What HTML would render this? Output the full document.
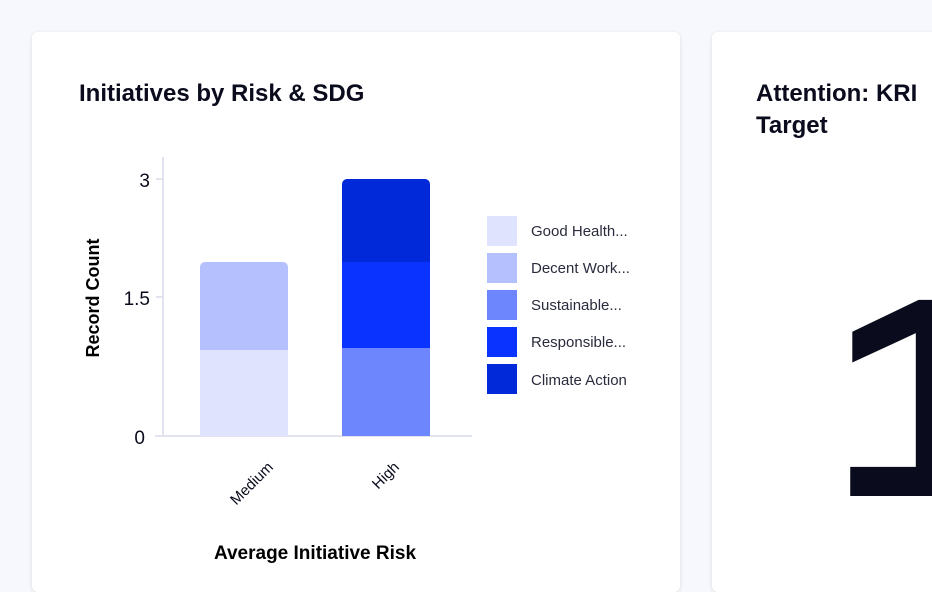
<!DOCTYPE html>
<html><head><style>
body{margin:0;width:932px;height:584px;background:#f7f8fd;overflow:hidden;position:relative;font-family:"Liberation Sans",sans-serif;color:#0a0c1d}
.card{position:absolute;background:#fff;border-radius:6px;box-shadow:0 1px 4px rgba(20,20,60,.12)}
</style></head><body>
<div class="card" style="left:32px;top:32px;width:648px;height:560px"></div>
<div class="card" style="left:712px;top:32px;width:220px;height:560px;border-radius:6px 0 0 6px"></div>
<div style="position:absolute;left:79px;top:80px;font-size:24px;font-weight:bold;">Initiatives by Risk &amp; SDG</div>
<div style="position:absolute;left:756px;top:78px;font-size:24px;font-weight:bold;line-height:32px">Attention: KRI<br>Target</div>
<div style="position:absolute;left:826px;top:256px;width:106px;height:260px;overflow:hidden"><div style="font-size:285px;font-weight:bold;line-height:1;color:#0a0c1d;transform:scaleX(1.35);transform-origin:0 0;margin-left:0px">1</div></div>
<svg style="position:absolute;left:0;top:0" width="680" height="584">
<line x1="163" y1="157" x2="163" y2="437" stroke="#e1e3ee" stroke-width="2"/>
<line x1="155" y1="436" x2="472" y2="436" stroke="#e1e3ee" stroke-width="2"/>
<line x1="156" y1="179" x2="163" y2="179" stroke="#e1e3ee" stroke-width="2"/>
<line x1="156" y1="297" x2="163" y2="297" stroke="#e1e3ee" stroke-width="2"/>
<g font-size="19" text-anchor="end" fill="#0a0c1d">
<text x="150" y="187">3</text><text x="150" y="305">1.5</text><text x="145" y="444">0</text></g>
<path d="M200,350 V267 a5,5 0 0 1 5,-5 H283 a5,5 0 0 1 5,5 V350Z" fill="#b5c0fe"/>
<rect x="200" y="350" width="88" height="86" fill="#dfe3fd"/>
<path d="M342,262 V184 a5,5 0 0 1 5,-5 H425 a5,5 0 0 1 5,5 V262Z" fill="#0229d9"/>
<rect x="342" y="262" width="88" height="86" fill="#0a33ff"/>
<rect x="342" y="348" width="88" height="88" fill="#6d86fe"/>
<g font-size="15" fill="#0a0c1d">
<text transform="translate(274,468) rotate(-45)" text-anchor="end">Medium</text>
<text transform="translate(400,468) rotate(-45)" text-anchor="end">High</text></g>
<text transform="translate(99,298) rotate(-90)" text-anchor="middle" font-size="18" font-weight="bold">Record Count</text>
<text x="315" y="559" text-anchor="middle" font-size="19" font-weight="bold">Average Initiative Risk</text>
<rect x="487" y="216" width="30" height="30" fill="#dfe3fd"/>
<rect x="487" y="253" width="30" height="30" fill="#b5c0fe"/>
<rect x="487" y="290" width="30" height="30" fill="#6d86fe"/>
<rect x="487" y="327" width="30" height="30" fill="#0a33ff"/>
<rect x="487" y="364" width="30" height="30" fill="#0229d9"/>
<g font-size="15" fill="#2a2c3d">
<text x="531" y="236">Good Health...</text>
<text x="531" y="273">Decent Work...</text>
<text x="531" y="310">Sustainable...</text>
<text x="531" y="347">Responsible...</text>
<text x="531" y="385">Climate Action</text></g>
</svg>
</body></html>
